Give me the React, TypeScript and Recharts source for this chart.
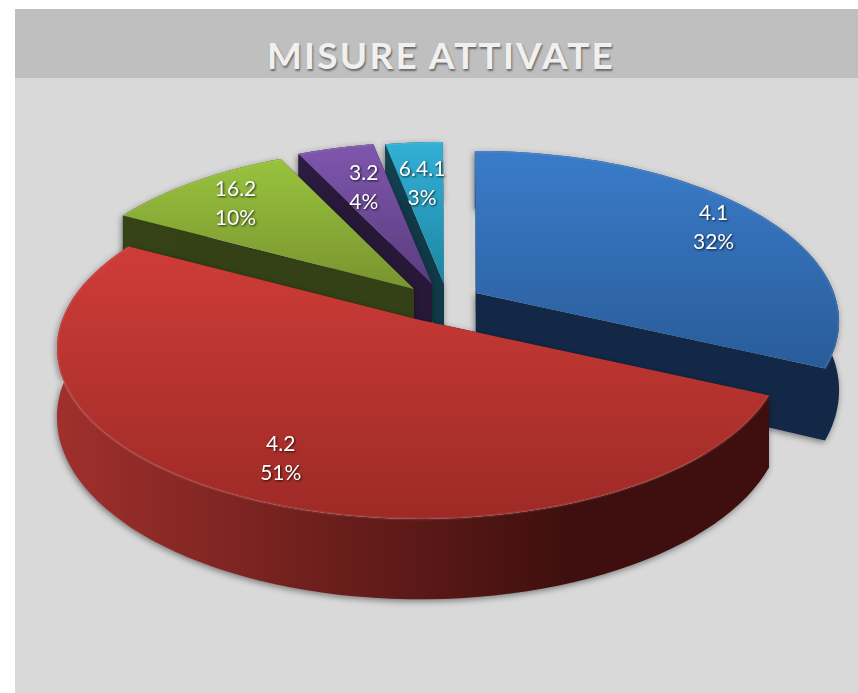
import { PieChart, Pie } from "recharts";

// listed counter-clockwise, so the red slice is painted last and sits in front
const categories = ["4.1", "6.4.1", "3.2", "16.2", "4.2"];
const shares = [32, 3, 4, 10, 51];

const topColors = [
  ["#3a7cca", "#295c99"],
  ["#33b0d6", "#1e86a3"],
  ["#7f56ad", "#5b3c7f"],
  ["#99c33e", "#78942f"],
  ["#cf3c38", "#9d2a26"],
];
const wallColors = [
  ["#122a4b", "#122846"],
  ["#134250", "#103a47"],
  ["#2c1c40", "#271838"],
  ["#364316", "#344015"],
  ["#a0302c", "#3e0f0e"],
];
// how far each slice is pulled out of the pie, in px
const pullOut = [
  [56, -27],
  [24, -36],
  [12, -36],
  [-6, -31],
  [0, 0],
];
const labelRadius = [0.84, 0.7, 0.72, 0.82, 0.75];
const labelNudge = [
  [2, 4],
  [0, 2],
  [4, 5],
  [5, 4],
  [-3, 13],
];

const SQUASH = 0.463;
const PERSPECTIVE = 6;
const DEPTH = 67;
const FIRST_ANGLE = -25;

function project(cx: number, cy: number, rx: number, angle: number, f = 1) {
  const a = (angle * Math.PI) / 180;
  const u = f * Math.cos(a);
  const v = f * Math.sin(a);
  const s = PERSPECTIVE / (PERSPECTIVE + v);
  return { x: cx + u * rx * s, y: cy - v * rx * SQUASH * s, s };
}

function path(pts: { x: number; y: number }[], close = true) {
  return (
    pts.map((p, i) => `${i ? "L" : "M"}${p.x.toFixed(1)} ${p.y.toFixed(1)}`).join(" ") +
    (close ? " Z" : "")
  );
}

const drop = (p: { x: number; y: number; s: number }) => ({
  x: p.x,
  y: p.y + DEPTH * p.s,
  s: p.s,
});

function Slice3D(props: any) {
  const { cx, cy, outerRadius, startAngle, endAngle, index } = props;
  const [ox, oy] = pullOut[index];
  const cxx = cx + ox;
  const cyy = cy + oy;
  const arc = [];
  const steps = 80;
  for (let i = 0; i <= steps; i++) {
    const ang = startAngle + ((endAngle - startAngle) * i) / steps;
    arc.push(project(cxx, cyy, outerRadius, ang));
  }
  const apex = { x: cxx, y: cyy, s: 1 };
  const top = path([apex, ...arc]);
  const outer = path([...arc, ...arc.map(drop).reverse()]);
  const wallA = path([apex, arc[0], drop(arc[0]), drop(apex)]);
  const wallB = path([apex, arc[steps], drop(arc[steps]), drop(apex)]);
  const sideId = `side${index}`;
  const topId = `top${index}`;
  return (
    <g>
      <defs>
        <linearGradient id={topId} x1="0" y1="0" x2="0" y2="1">
          <stop offset="0" stopColor={topColors[index][0]} />
          <stop offset="1" stopColor={topColors[index][1]} />
        </linearGradient>
        <linearGradient id={sideId} x1="0" y1="0" x2="1" y2="0">
          <stop offset="0" stopColor={wallColors[index][0]} />
          <stop offset="0.72" stopColor={wallColors[index][1]} />
          <stop offset="1" stopColor={wallColors[index][1]} />
        </linearGradient>
      </defs>
      <g style={{ filter: "drop-shadow(-1px 2px 3px rgba(0,0,0,0.45))" }}>
        <path d={wallA} fill={wallColors[index][1]} />
        <path d={wallB} fill={wallColors[index][1]} />
        <path d={outer} fill={`url(#${sideId})`} />
      </g>
      <path d={top} fill={`url(#${topId})`} />
      <path d={path(arc, false)} fill="none" stroke="#ffffff" strokeOpacity={0.07} strokeWidth={3} />
    </g>
  );
}

function SliceLabel(props: any) {
  const { cx, cy, outerRadius, midAngle, index, percent, name } = props;
  const [ox, oy] = pullOut[index];
  const [nx, ny] = labelNudge[index];
  const p = project(cx + ox, cy + oy, outerRadius, midAngle, labelRadius[index]);
  return (
    <text
      textAnchor="middle"
      fontFamily="Lato, sans-serif"
      fontSize={21}
      fill="#ffffff"
      style={{ filter: "drop-shadow(1px 1px 1px rgba(0,0,0,0.75))" }}
    >
      <tspan x={p.x + nx} y={p.y + ny - 7}>{name}</tspan>
      <tspan x={p.x + nx} y={p.y + ny + 22}>{`${Math.round(percent * 100)}%`}</tspan>
    </text>
  );
}

const data = categories.map((name, i) => ({ name, value: shares[i] }));

export default function App() {
  return (
    <div style={{ position: "absolute", left: 0, top: 0, width: 858, height: 693, background: "#ffffff", overflow: "hidden" }}>
      <div style={{ position: "absolute", left: 15, top: 9, width: 843, height: 684, background: "#d9d9d9" }} />
      <div
        style={{
          position: "absolute",
          left: 15,
          top: 9,
          width: 834,
          paddingLeft: 9,
          height: 69,
          background: "#bfbfbf",
          textAlign: "center",
          fontFamily: "Lato, sans-serif",
          fontWeight: 700,
          fontSize: 37,
          lineHeight: "92px",
          letterSpacing: 2.2,
          color: "#f0f0f0",
          textShadow: "1px 2px 2px rgba(0,0,0,0.45)",
          whiteSpace: "pre",
        }}
      >
        MISURE ATTIVATE
      </div>
      <div style={{ position: "absolute", left: 0, top: 0 }}>
        <PieChart width={858} height={693} margin={{ top: 0, right: 0, bottom: 0, left: 0 }}>
          <Pie
            data={data}
            dataKey="value"
            nameKey="name"
            cx={420}
            cy={320}
            outerRadius={358}
            startAngle={FIRST_ANGLE}
            endAngle={FIRST_ANGLE + 360}
            stroke="none"
            shape={Slice3D}
            label={SliceLabel}
            labelLine={false}
            isAnimationActive={false}
          />
        </PieChart>
      </div>
    </div>
  );
}
